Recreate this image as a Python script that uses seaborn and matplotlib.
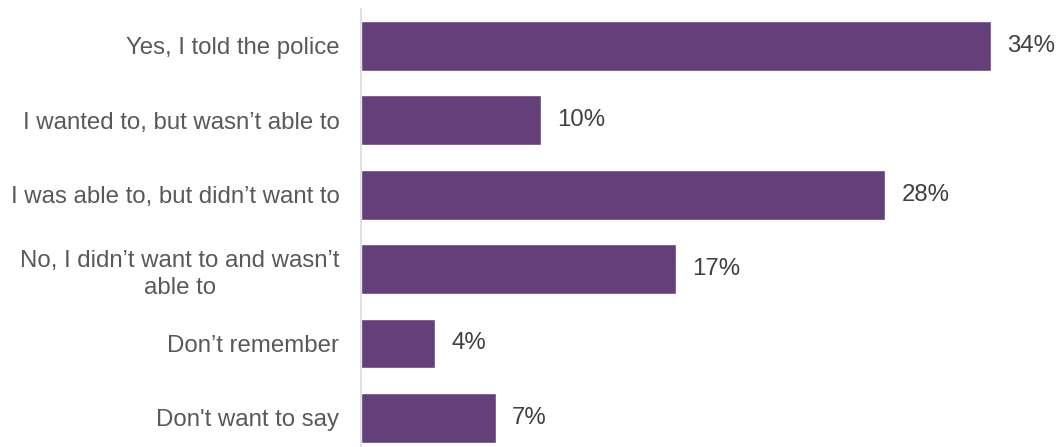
import matplotlib
matplotlib.use("Agg")
import matplotlib.pyplot as plt
import seaborn as sns
import pandas as pd

categories = [
    "Yes, I told the police",
    "I wanted to, but wasn\u2019t able to",
    "I was able to, but didn\u2019t want to",
    "No, I didn\u2019t want to and wasn\u2019t\nable to",
    "Don\u2019t remember",
    "Don't want to say",
]
values = [34.0, 9.7, 28.3, 17.0, 4.0, 7.3]
value_labels = ["34%", "10%", "28%", "17%", "4%", "7%"]

sns.set_theme(style="white")
plt.rcParams["font.family"] = ["Liberation Sans", "DejaVu Sans"]

df = pd.DataFrame({"cat": categories, "val": values})

fig = plt.figure(figsize=(10.56, 4.47), dpi=100)
ax = fig.add_axes([361 / 1056, (447 - 455) / 447, 685.6 / 1056, (455 - 8.8) / 447])

sns.barplot(data=df, y="cat", x="val", orient="h", color="#653F7A",
            saturation=1, width=0.67, ax=ax)

ax.set_xlim(0, 37)
ax.set_ylim(5.5, -0.5)
ax.set_xlabel("")
ax.set_ylabel("")
ax.set_xticks([])
for s in ["top", "right", "bottom"]:
    ax.spines[s].set_visible(False)
ax.spines["left"].set_color("#D9D9D9")
ax.spines["left"].set_linewidth(1.2)

ax.tick_params(axis="y", length=0, pad=15.5, labelsize=17.3, labelcolor="#595959")
for lbl in ax.get_yticklabels():
    lbl.set_horizontalalignment("right")
    lbl.set_multialignment("center")
    lbl.set_linespacing(1.3)

for i, (v, t) in enumerate(zip(values, value_labels)):
    ax.annotate(t, xy=(v, i), xytext=(11.5, 0), textcoords="offset points",
                va="center", ha="left", fontsize=17.3, color="#404040")

fig.savefig("out.png", dpi=100)
